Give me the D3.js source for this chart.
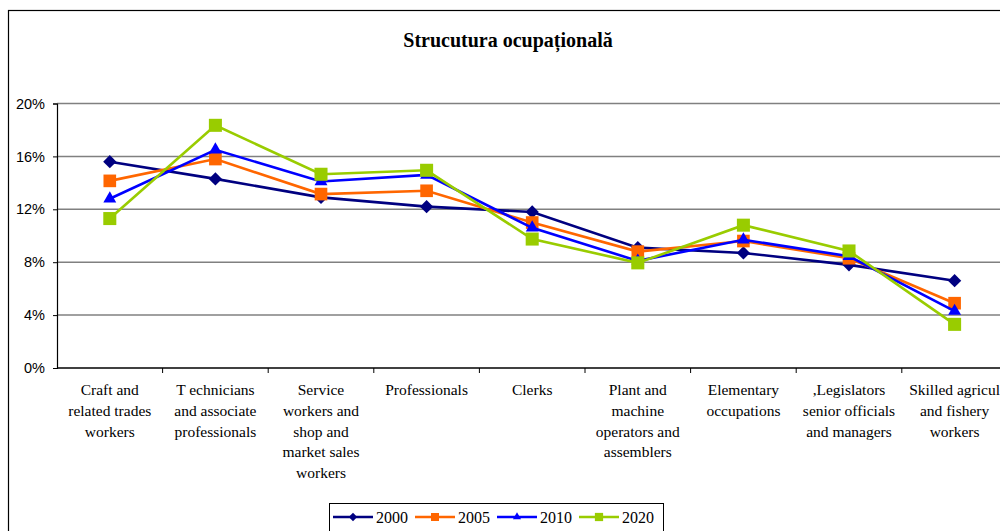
<!DOCTYPE html>
<html>
<head>
<meta charset="utf-8">
<script src="https://cdn.jsdelivr.net/npm/d3@7"></script>
<style>
  body { margin: 0; background: #fff; }
  svg { display: block; }
</style>
</head>
<body>
<div id="chart"></div>
<script>
// categories, each split into the lines shown under the axis
const categories = [
    ['Craft and', 'related trades', 'workers'],
    ['T echnicians', 'and associate', 'professionals'],
    ['Service', 'workers and', 'shop and', 'market sales', 'workers'],
    ['Professionals'],
    ['Clerks'],
    ['Plant and', 'machine', 'operators and', 'assemblers'],
    ['Elementary', 'occupations'],
    [',Legislators', 'senior officials', 'and managers'],
    ['Skilled agricul', 'and fishery', 'workers']
];
const years = ['2000', '2005', '2010', '2020'];
const v2000 = [15.6, 14.3, 12.9, 12.2, 11.8, 9.1, 8.7, 7.8, 6.6];
const v2005 = [14.15, 15.8, 13.15, 13.4, 11.0, 8.8, 9.6, 8.3, 4.9];
const v2010 = [12.8, 16.5, 14.1, 14.6, 10.6, 8.1, 9.7, 8.45, 4.3];
const v2020 = [11.3, 18.35, 14.65, 14.95, 9.75, 7.95, 10.8, 8.85, 3.3];
const yTicks = [0, 4, 8, 12, 16, 20];

const colors = ['#000080', '#FF6600', '#0000FF', '#99CC00'];
const shapes = [d3.symbolSquare, d3.symbolSquare, d3.symbolTriangle, d3.symbolSquare];
const rotations = [45, 0, 0, 0];
const sizes = [88, 160, 72, 170];

const width = 1000, height = 531;
const plot = {left: 57, right: 1007.4, top: 103.5, bottom: 368};

const svg = d3.select('#chart').append('svg')
    .attr('width', width)
    .attr('height', height);

// outer frame
svg.append('rect')
    .attr('x', 8.5).attr('y', 10.5)
    .attr('width', 1010).attr('height', 540)
    .attr('fill', 'none')
    .attr('stroke', '#000')
    .attr('stroke-width', 1.2);

svg.append('text')
    .attr('x', 508)
    .attr('y', 47)
    .attr('text-anchor', 'middle')
    .style('font-family', '"Liberation Serif", "Times New Roman", serif')
    .style('font-weight', 'bold')
    .style('font-size', '20px')
    .text('Strucutura ocupațională');

const keys = categories.map((c, i) => i);
const xScale = d3.scaleBand()
    .domain(keys)
    .range([plot.left, plot.right]);

const yScale = d3.scaleLinear()
    .domain([0, 20])
    .range([plot.bottom, plot.top]);

// gridlines
svg.append('g')
    .selectAll('line')
    .data(yTicks.filter(t => t > 0))
    .join('line')
        .attr('x1', plot.left).attr('x2', plot.right)
        .attr('y1', d => yScale(d)).attr('y2', d => yScale(d))
        .attr('stroke', '#808080')
        .attr('stroke-width', 1.5);

// y axis
const yAxis = d3.axisLeft(yScale)
    .tickValues(yTicks)
    .tickSize(4)
    .tickPadding(8)
    .tickFormat(d => d + '%');
const yAxisGroup = svg.append('g')
    .attr('transform', `translate(${plot.left}, 0)`)
    .call(yAxis);
yAxisGroup.select('.domain').attr('stroke', '#000').attr('stroke-width', 1.2);
yAxisGroup.selectAll('.tick line').attr('stroke', '#000');
yAxisGroup.selectAll('.tick text')
    .attr('fill', '#000')
    .style('font-family', '"Liberation Sans", Arial, sans-serif')
    .style('font-size', '14.5px');

// x axis line and ticks at band edges
svg.append('line')
    .attr('x1', plot.left).attr('x2', plot.right)
    .attr('y1', plot.bottom).attr('y2', plot.bottom)
    .attr('stroke', '#000').attr('stroke-width', 1.5);
svg.append('g')
    .selectAll('line')
    .data(keys.slice(1))
    .join('line')
        .attr('x1', d => xScale(d)).attr('x2', d => xScale(d))
        .attr('y1', plot.bottom).attr('y2', plot.bottom + 5)
        .attr('stroke', '#000');

// category labels
const labels = svg.append('g')
    .selectAll('text')
    .data(keys)
    .join('text')
        .attr('text-anchor', 'middle')
        .attr('x', d => xScale(d) + xScale.bandwidth() / 2)
        .attr('y', 395)
        .style('font-family', '"Liberation Serif", "Times New Roman", serif')
        .style('font-size', '15.5px')
        .attr('fill', '#000');
labels.selectAll('tspan')
    .data(d => categories[d])
    .join('tspan')
        .attr('x', function() { return this.parentNode.getAttribute('x'); })
        .attr('dy', (d, i) => i === 0 ? 0 : 20.8)
        .text(d => d);

// series
const series = [v2000, v2005, v2010, v2020];
const line = d3.line()
    .x((d, i) => xScale(i) + xScale.bandwidth() / 2)
    .y(d => yScale(d));

series.forEach((vals, s) => {
    const g = svg.append('g');
    g.append('path')
        .datum(vals)
        .attr('d', line)
        .attr('fill', 'none')
        .attr('stroke', colors[s])
        .attr('stroke-width', 2.6);
    g.selectAll('path.mark')
        .data(vals)
        .join('path')
            .attr('class', 'mark')
            .attr('transform', (d, i) => `translate(${xScale(i) + xScale.bandwidth() / 2}, ${yScale(d)}) rotate(${rotations[s]})`)
            .attr('d', d3.symbol().type(shapes[s]).size(sizes[s]))
            .attr('fill', colors[s]);
});

// legend
const legend = svg.append('g').attr('transform', 'translate(329, 503)');
legend.append('rect')
    .attr('x', 0.5).attr('y', 0.5)
    .attr('width', 334).attr('height', 40)
    .attr('fill', '#fff')
    .attr('stroke', '#000');
const item = legend.selectAll('g.item')
    .data(years)
    .join('g')
        .attr('class', 'item')
        .attr('transform', (d, i) => `translate(${4 + i * 82}, 14)`);
item.append('line')
    .attr('x1', 0).attr('x2', 40)
    .attr('y1', 0).attr('y2', 0)
    .attr('stroke', (d, i) => colors[i])
    .attr('stroke-width', 2.6);
item.append('path')
    .attr('transform', (d, i) => `translate(20, 0) rotate(${rotations[i]})`)
    .attr('d', (d, i) => d3.symbol().type(shapes[i]).size(sizes[i] * 0.4)())
    .attr('fill', (d, i) => colors[i]);
item.append('text')
    .attr('x', 43)
    .attr('y', 5.5)
    .style('font-family', '"Liberation Serif", "Times New Roman", serif')
    .style('font-size', '16px')
    .attr('fill', '#000')
    .text(d => d);
</script>
</body>
</html>
